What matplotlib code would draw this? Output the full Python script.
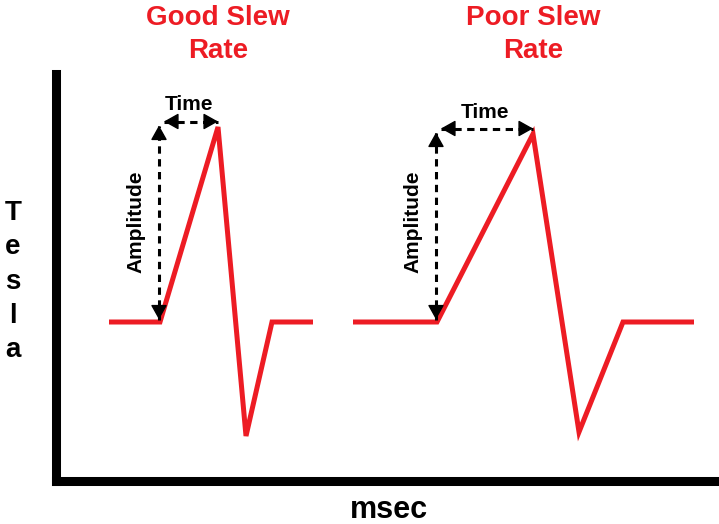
import matplotlib.pyplot as plt
from matplotlib import font_manager

# --- Data (x in msec units, y in Tesla units, baseline = 0) ---
good_x = [5.25, 10.35, 16.15, 18.95, 21.55, 25.65]
good_y = [0, 0, 19.5, -11.4, 0, 0]
poor_x = [29.65, 38.05, 47.65, 52.25, 56.65, 63.75]
poor_y = [0, 0, 18.8, -11.0, 0, 0]

titles = ["Good Slew\nRate", "Poor Slew\nRate"]
x_label = "msec"
y_label = "Tesla"

RED = "#ED1C24"
W, H = 719, 524

names = {f.name for f in font_manager.fontManager.ttflist}
narrow = ["Liberation Sans Narrow", "Liberation Sans"] if "Liberation Sans Narrow" in names \
    else ["Liberation Sans"]
regular = ["Liberation Sans", "DejaVu Sans"]

fig = plt.figure(figsize=(W / 100, H / 100), dpi=100)
# axes placed so the thick spines sit where the reference draws them
ax = fig.add_axes([56.5 / W, (H - 480.5) / H, (W - 56.5) / W, (480.5 - 73.5) / H])
ax.set_xlim(0, 66.25)
ax.set_ylim(-15.85, 24.85)

for s in ["top", "right"]:
    ax.spines[s].set_visible(False)
for s in ["left", "bottom"]:
    ax.spines[s].set_linewidth(6.5)
    ax.spines[s].set_color("black")
ax.set_xticks([])
ax.set_yticks([])

for xs, ys in [(good_x, good_y), (poor_x, poor_y)]:
    ax.plot(xs, ys, color=RED, lw=3.6, solid_joinstyle="miter",
            solid_capstyle="butt", clip_on=False)

head_kw = dict(arrowstyle="-|>,head_length=0.75,head_width=0.42",
               color="black", lw=1.0, mutation_scale=12, shrinkA=0, shrinkB=0)


def dashed_arrow(p0, p1, back=0.7):
    """Double-headed dashed arrow between p0 and p1 (data units)."""
    (x0, y0), (x1, y1) = p0, p1
    ax.plot([x0, x1], [y0, y1], color="black", lw=2.2,
            linestyle=(0, (2.4, 1.8)), dash_capstyle="butt")
    dx, dy = x1 - x0, y1 - y0
    n = (dx ** 2 + dy ** 2) ** 0.5
    ux, uy = dx / n * back, dy / n * back
    ax.annotate("", xy=(x1, y1), xytext=(x1 - ux, y1 - uy), arrowprops=head_kw)
    ax.annotate("", xy=(x0, y0), xytext=(x0 + ux, y0 + uy), arrowprops=head_kw)


for xs, ys, title in [(good_x, good_y, titles[0]), (poor_x, poor_y, titles[1])]:
    x0, x_peak, y_peak = xs[1], xs[2], ys[2]
    top = y_peak + 0.2
    dashed_arrow((x0 - 0.1, 0.25), (x0 - 0.1, top - 0.05))
    dashed_arrow((x0 + 0.4, top + 0.35), (x_peak, top + 0.35))
    ax.text((x0 + x_peak) / 2, top + 2.0, "Time", ha="center", va="center",
            fontsize=15, fontweight="bold", family=regular)
    ax.text(x0 - 2.4, 10.0, "Amplitude", ha="center", va="center",
            rotation=90, fontsize=15, fontweight="bold", family=regular)
    ax.text(x_peak, 28.75, title, ha="center", va="center", color=RED,
            fontsize=20, fontweight="bold", family=regular, linespacing=1.35,
            clip_on=False)

fig.text(389 / W, (H - 518) / H, x_label, ha="center", va="baseline",
         fontsize=22, fontweight="bold", family=narrow)

for i, ch in enumerate(y_label):
    fig.text(13 / W, (H - (220 + 34.3 * i)) / H, ch, ha="center",
             va="baseline", fontsize=20, fontweight="bold", family=narrow)

fig.savefig("out.png", dpi=100)
